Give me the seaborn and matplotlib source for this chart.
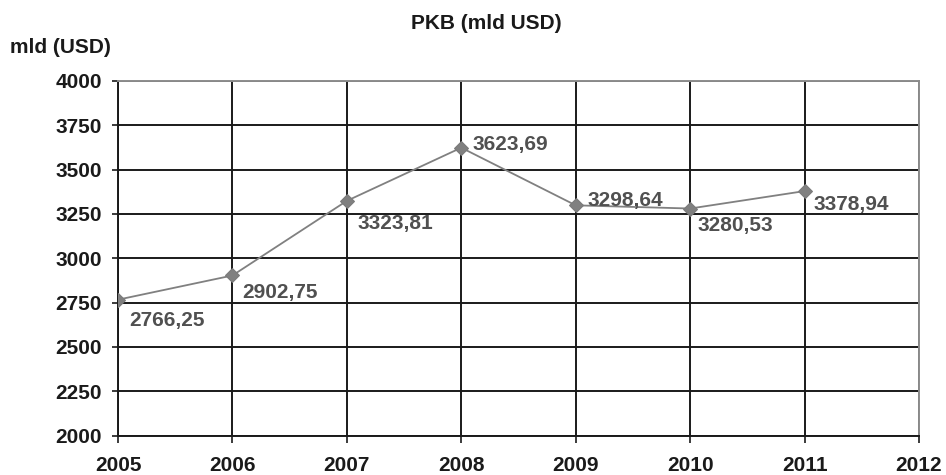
import numpy as np
import pandas as pd
import matplotlib
matplotlib.use("Agg")
import matplotlib.pyplot as plt
import seaborn as sns

years = [2005, 2006, 2007, 2008, 2009, 2010, 2011]
gdp = [2766.25, 2902.75, 3323.81, 3623.69, 3298.64, 3280.53, 3378.94]
labels = ["2766,25", "2902,75", "3323,81", "3623,69", "3298,64", "3280,53", "3378,94"]
# label placement: offsets (points) of the text baseline relative to the point
offsets = [(8, -18.7), (7, -16.5), (8, -20), (8, -1.5), (8.6, -0.7), (5, -16), (6.5, -13.7)]

sns.set_style("white")
plt.rcParams['font.family'] = ['Liberation Sans', 'DejaVu Sans']
plt.rcParams['font.weight'] = 'bold'

df = pd.DataFrame({"year": years, "gdp": gdp})

fig = plt.figure(figsize=(9.46, 4.75), dpi=100)
ax = fig.add_axes([118 / 946, 1 - 435.5 / 475, (919 - 118) / 946, (435.5 - 81) / 475])

sns.lineplot(data=df, x="year", y="gdp", ax=ax, color="#808080", marker="D",
             markersize=7.5, markeredgecolor="#7a7a7a", linewidth=1.3, zorder=3)

for x, y, t, (dx, dy) in zip(years, gdp, labels, offsets):
    ax.annotate(t, (x, y), xytext=(dx, dy), textcoords="offset points",
                ha="left", va="baseline", fontsize=15, fontweight="bold", color="#505050")

ax.set_xlim(2005, 2012)
ax.set_ylim(2000, 4000)
ax.set_xticks(range(2005, 2013))
ax.set_yticks(range(2000, 4001, 250))
ax.grid(True, color="#1a1a1a", linewidth=1.4)
ax.set_axisbelow(True)

for s in ["left", "bottom"]:
    ax.spines[s].set_color("#1a1a1a")
    ax.spines[s].set_linewidth(1.4)
for s in ["top", "right"]:
    ax.spines[s].set_color("#8c8c8c")
    ax.spines[s].set_linewidth(1.4)

ax.tick_params(axis="both", which="major", direction="out", width=1.2,
               color="#1a1a1a", labelsize=15, labelcolor="#1a1a1a",
               left=True, bottom=True)
ax.tick_params(axis="y", length=4.5, pad=7)
ax.tick_params(axis="x", length=5, pad=10)
for lab in ax.get_xticklabels() + ax.get_yticklabels():
    lab.set_fontweight("bold")

ax.set_xlabel("")
ax.set_ylabel("")
fig.text(486 / 946, 1 - 29 / 475, "PKB (mld USD)", ha="center", va="baseline",
         fontsize=15, fontweight="bold", color="#1a1a1a")
fig.text(10 / 946, 1 - 53 / 475, "mld (USD)", ha="left", va="baseline",
         fontsize=15, fontweight="bold", color="#1a1a1a")

fig.savefig("out.png", dpi=100)
